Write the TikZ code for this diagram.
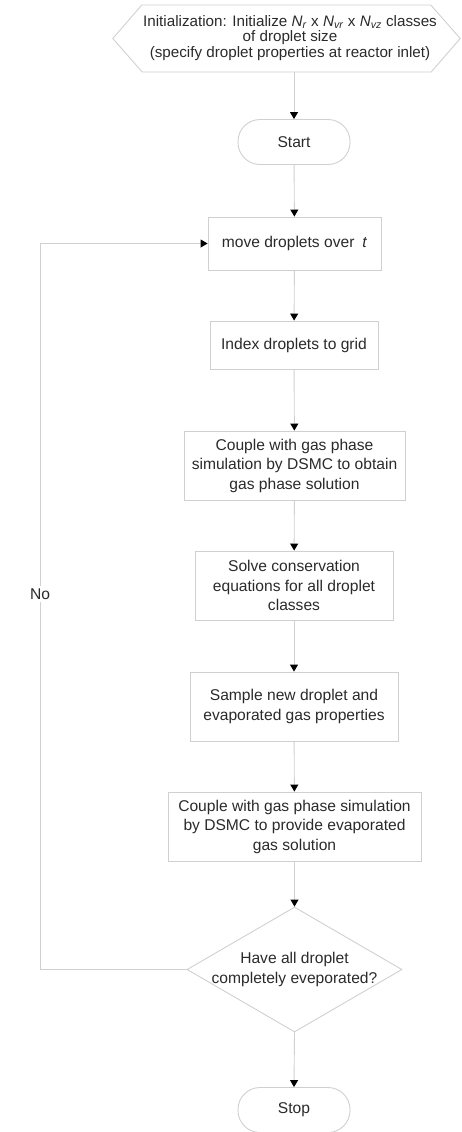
\documentclass[tikz,border=0pt]{standalone}
\usepackage{fontspec}
\setmainfont{Liberation Sans}
\usetikzlibrary{arrows.meta,shapes.geometric}
\newcommand\Nsb[1]{\textit{N}\textsubscript{\textit{#1}}}
\definecolor{linegray}{HTML}{D0D0D0}
\definecolor{txtgray}{HTML}{2A2A2A}
\begin{document}
\begin{tikzpicture}[x=1pt,y=-1pt,
  every node/.style={text=txtgray, font=\fontsize{15.6}{19.5}\selectfont, align=center, inner sep=0pt},
  procbox/.style={draw=linegray, line width=0.9pt, rectangle},
  termbox/.style={draw=linegray, line width=0.9pt, rectangle, rounded corners=22pt, minimum width=112pt, minimum height=45pt},
  decbox/.style={draw=linegray, line width=0.9pt, diamond, minimum width=215pt, minimum height=125pt},
  conn/.style={draw=linegray, line width=0.9pt, -{Triangle[width=8pt,length=7pt,color=black,fill=black]}}
]
\useasboundingbox (0,0) rectangle (462,1132);
% initialization hexagon
\node[minimum width=347pt, minimum height=67pt] (init) at (286.5,38.5) {};
\draw[draw=linegray, line width=0.9pt] (init.west) -- ++(29,-33.5) -- ++(289,0) -- (init.east) -- ++(-29,33.5) -- ++(-289,0) -- cycle;
\node[font=\fontsize{15.2}{15.8}\selectfont] at (290,38) {Initialization: Initialize \Nsb{r} x \Nsb{vr} x \Nsb{vz} classes\\of droplet size\\(specify droplet properties at reactor inlet)};

\node[termbox] (start) at (294,142) {Start};
\node[procbox, minimum width=173pt, minimum height=53pt] (move) at (294.5,243.5) {move droplets over\enspace\textit{t}};
\node[procbox, minimum width=168pt, minimum height=48pt] (index) at (294,345) {Index droplets to grid};
\node[procbox, minimum width=221pt, minimum height=69pt] (cpl1) at (294.5,465.5) {Couple with gas phase\\simulation by DSMC to obtain\\gas phase solution};
\node[procbox, minimum width=198pt, minimum height=69pt] (solve) at (294,585.5) {Solve conservation\\equations for all droplet\\classes};
\node[procbox, minimum width=208pt, minimum height=69pt] (sample) at (294,706.5) {Sample new droplet and\\evaporated gas properties};
\node[procbox, minimum width=253pt, minimum height=69pt] (cpl2) at (294.5,826.5) {Couple with gas phase simulation\\by DSMC to provide evaporated\\gas solution};
\node[decbox] (dec) at (294.5,969.5) {};
\node at (dec) {Have all droplet\\completely eveporated?};
\node[termbox] (stop) at (294,1110) {Stop};

\draw[conn] (start |- init.south) -- (start.north);
\draw[conn] (start) -- (move);
\draw[conn] (move) -- (index);
\draw[conn] (index) -- (cpl1);
\draw[conn] (cpl1) -- (solve);
\draw[conn] (solve) -- (sample);
\draw[conn] (sample) -- (cpl2);
\draw[conn] (cpl2.south -| dec.north) -- (dec.north);
\draw[conn] (dec.south) -- (stop.north);
\coordinate (lp) at (40,969.5);
\draw[conn] (dec.west) -- (lp) |- (move.west);
\node[fill=white, inner sep=3pt] at (40,594) {No};
\end{tikzpicture}
\end{document}
